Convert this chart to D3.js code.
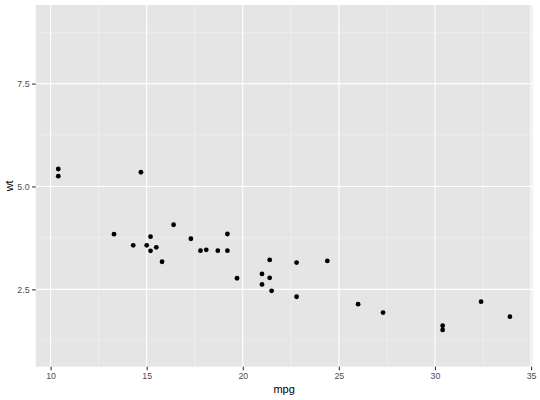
<!DOCTYPE html>
<html>
<head>
<meta charset="utf-8">
<script src="https://cdn.jsdelivr.net/npm/d3@7"></script>
<style>
  body { margin: 0; background: #fff; }
  text { font-family: "Liberation Sans", Arial, sans-serif; }
</style>
</head>
<body>
<div id="chart"></div>
<script>
// mtcars: mpg vs wt
const mpg = [21.0, 21.0, 22.8, 21.4, 18.7, 18.1, 14.3, 24.4, 22.8, 19.2, 17.8, 16.4, 17.3, 15.2, 10.4, 10.4,
             14.7, 32.4, 30.4, 33.9, 21.5, 15.5, 15.2, 13.3, 19.2, 27.3, 26.0, 30.4, 15.8, 19.7, 15.0, 21.4];
const wt = [2.620, 2.875, 2.320, 3.215, 3.440, 3.460, 3.570, 3.190, 3.150, 3.440, 3.440, 4.070, 3.730, 3.780, 5.250, 5.424,
            5.345, 2.200, 1.615, 1.835, 2.465, 3.520, 3.435, 3.840, 3.845, 1.935, 2.140, 1.513, 3.170, 2.770, 3.570, 2.780];
const xTicks = [10, 15, 20, 25, 30, 35];
const xMinor = [12.5, 17.5, 22.5, 27.5, 32.5];
const yTicks = [2.5, 5.0, 7.5];
const yMinor = [1.25, 3.75, 6.25, 8.75];
const xDomain = [9.225, 35.075];
const yDomain = [0.62, 9.41];

const width = 540, height = 400;
const margin = {top: 5, right: 7.5, bottom: 33.3, left: 35.7};

const styles = {
  panel: {fill: '#E5E5E5'},
  major: {stroke: '#fff', strokeWidth: 1.1},
  minor: {stroke: '#F2F2F2', strokeWidth: 0.55},
  tick: {stroke: '#333', strokeWidth: 1.1},
  tickText: {fill: '#4D4D4D', fontSize: '8.8px'},
  title: {fill: '#000', fontSize: '11px'}
};

const svg = d3.select('#chart').append('svg')
  .attr('width', width).attr('height', height);

const x = d3.scaleLinear().domain(xDomain).range([margin.left, width - margin.right]);
const y = d3.scaleLinear().domain(yDomain).range([height - margin.bottom, margin.top]);

function applyStyle(sel, st) {
  Object.entries(st).forEach(([k, v]) => sel.style(k.replace(/[A-Z]/g, m => '-' + m.toLowerCase()), v));
  return sel;
}

// panel background
applyStyle(svg.append('rect')
  .attr('x', x.range()[0]).attr('y', y.range()[1])
  .attr('width', x.range()[1] - x.range()[0])
  .attr('height', y.range()[0] - y.range()[1]), styles.panel);

const grid = svg.append('g');
function vLines(vals, st) {
  applyStyle(grid.selectAll(null).data(vals).enter().append('line')
    .attr('x1', d => x(d)).attr('x2', d => x(d))
    .attr('y1', y.range()[0]).attr('y2', y.range()[1]), st);
}
function hLines(vals, st) {
  applyStyle(grid.selectAll(null).data(vals).enter().append('line')
    .attr('y1', d => y(d)).attr('y2', d => y(d))
    .attr('x1', x.range()[0]).attr('x2', x.range()[1]), st);
}
vLines(xMinor, styles.minor);
hLines(yMinor, styles.minor);
vLines(xTicks, styles.major);
hLines(yTicks, styles.major);

// axes
const xAxis = svg.append('g')
  .attr('transform', `translate(0,${y.range()[0]})`)
  .call(d3.axisBottom(x).tickValues(xTicks).tickFormat(d3.format('d')).tickSize(3.6).tickPadding(2.5));
const yAxis = svg.append('g')
  .attr('transform', `translate(${x.range()[0]},0)`)
  .call(d3.axisLeft(y).tickValues(yTicks).tickFormat(d3.format('.1f')).tickSize(3.6).tickPadding(2.5));

[xAxis, yAxis].forEach(g => {
  g.select('.domain').remove();
  applyStyle(g.selectAll('.tick line'), styles.tick);
  applyStyle(g.selectAll('.tick text'), styles.tickText).attr('font-family', null);
  g.attr('font-family', null);
});

// points
svg.append('g').selectAll('circle')
  .data(mpg.map((m, i) => ({mpg: m, wt: wt[i]})))
  .enter().append('circle')
  .attr('cx', d => x(d.mpg))
  .attr('cy', d => y(d.wt))
  .attr('r', 2.4)
  .attr('fill', '#000');

// axis titles
applyStyle(svg.append('text')
  .attr('x', (x.range()[0] + x.range()[1]) / 2)
  .attr('y', 393)
  .attr('text-anchor', 'middle')
  .text('mpg'), styles.title);

applyStyle(svg.append('text')
  .attr('transform', `translate(12.5,${(y.range()[0] + y.range()[1]) / 2}) rotate(-90)`)
  .attr('text-anchor', 'middle')
  .text('wt'), styles.title);
</script>
</body>
</html>
